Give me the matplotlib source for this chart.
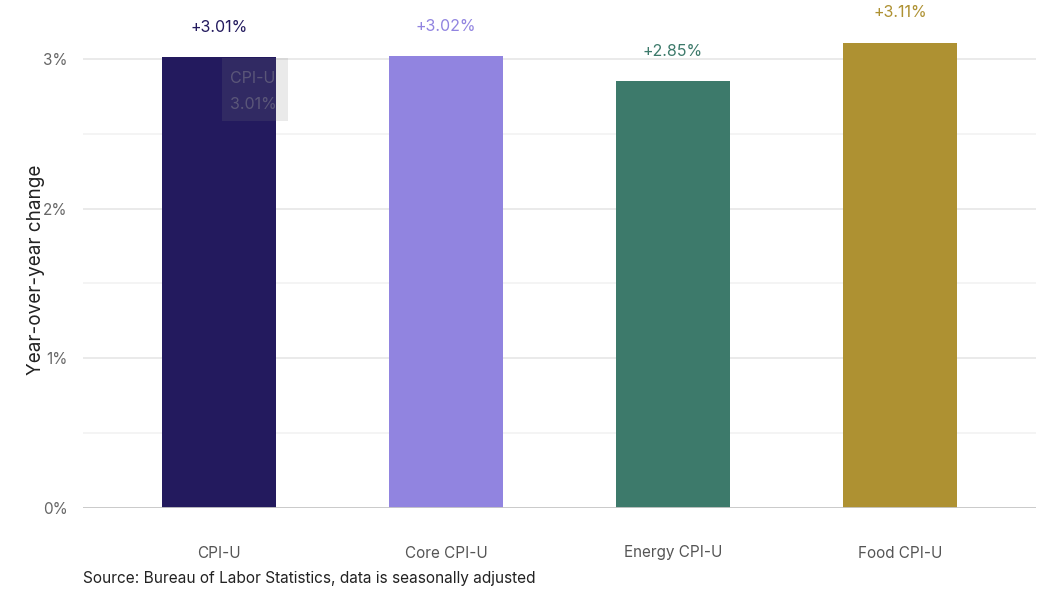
import matplotlib.pyplot as plt
from matplotlib.patches import Rectangle
from matplotlib.ticker import MultipleLocator, FuncFormatter

categories = ["CPI-U", "Core CPI-U", "Energy CPI-U", "Food CPI-U"]
values     = [3.01, 3.02, 2.85, 3.11]
colors     = ["#231a5e", "#9184e0", "#3d7a6b", "#ae9132"]

plt.rcParams["font.family"] = ["Inter", "DejaVu Sans"]

fig = plt.figure(figsize=(10.43, 5.9), dpi=100)
ax  = fig.add_axes([83 / 1043, 1 - 508 / 590, (1036 - 83) / 1043, 500 / 590])

x = list(range(len(categories)))
ax.bar(x, values, width=0.5, color=colors, zorder=3)

for xi, v, c in zip(x, values, colors):
    ax.annotate(f"+{v:.2f}%", (xi, v), xytext=(0, 21.5), textcoords="offset points",
                ha="center", va="center", fontsize=11.5, color=c, zorder=5)

# tooltip left over on the first bar
ax.add_patch(Rectangle((0.013, 2.586), 0.291, 0.421, facecolor="#808080",
                       alpha=0.16, edgecolor="none", zorder=4))
ax.text(0.048, 2.87, "CPI-U", fontsize=11.5, color="#9a9a9a", alpha=0.4, va="center", zorder=5)
ax.text(0.048, 2.695, "3.01%", fontsize=11.5, color="#9a9a9a", alpha=0.4, va="center", zorder=5)

ax.set_xlim(-0.6, 3.6)
ax.set_ylim(0, 500 / 149.67)

ax.yaxis.set_major_locator(MultipleLocator(1))
ax.yaxis.set_minor_locator(MultipleLocator(0.5))
ax.yaxis.set_major_formatter(FuncFormatter(lambda v, p: f"{v:.0f}%"))
ax.grid(axis="y", which="major", color="#e6e6e6", linewidth=1.2, zorder=0)
ax.grid(axis="y", which="minor", color="#f2f2f2", linewidth=1.2, zorder=0)
ax.axhline(0, color="#c8c8c8", linewidth=2, zorder=4)

ax.set_xticks(x)
ax.set_xticklabels(categories)
ax.tick_params(axis="x", length=0, pad=27, labelsize=11, labelcolor="#555555")
ax.tick_params(axis="y", which="both", length=0, pad=11, labelsize=11, labelcolor="#666666")

for s in ax.spines.values():
    s.set_visible(False)

ax.set_ylabel("Year-over-year change", fontsize=13.6, color="#222222")
ax.yaxis.set_label_coords(-0.04, 0.476)

fig.text(83 / 1043, 1 - 578 / 590, "Source: Bureau of Labor Statistics, data is seasonally adjusted",
         fontsize=11.1, color="#222222", va="center")

fig.savefig("out.png", dpi=100)
